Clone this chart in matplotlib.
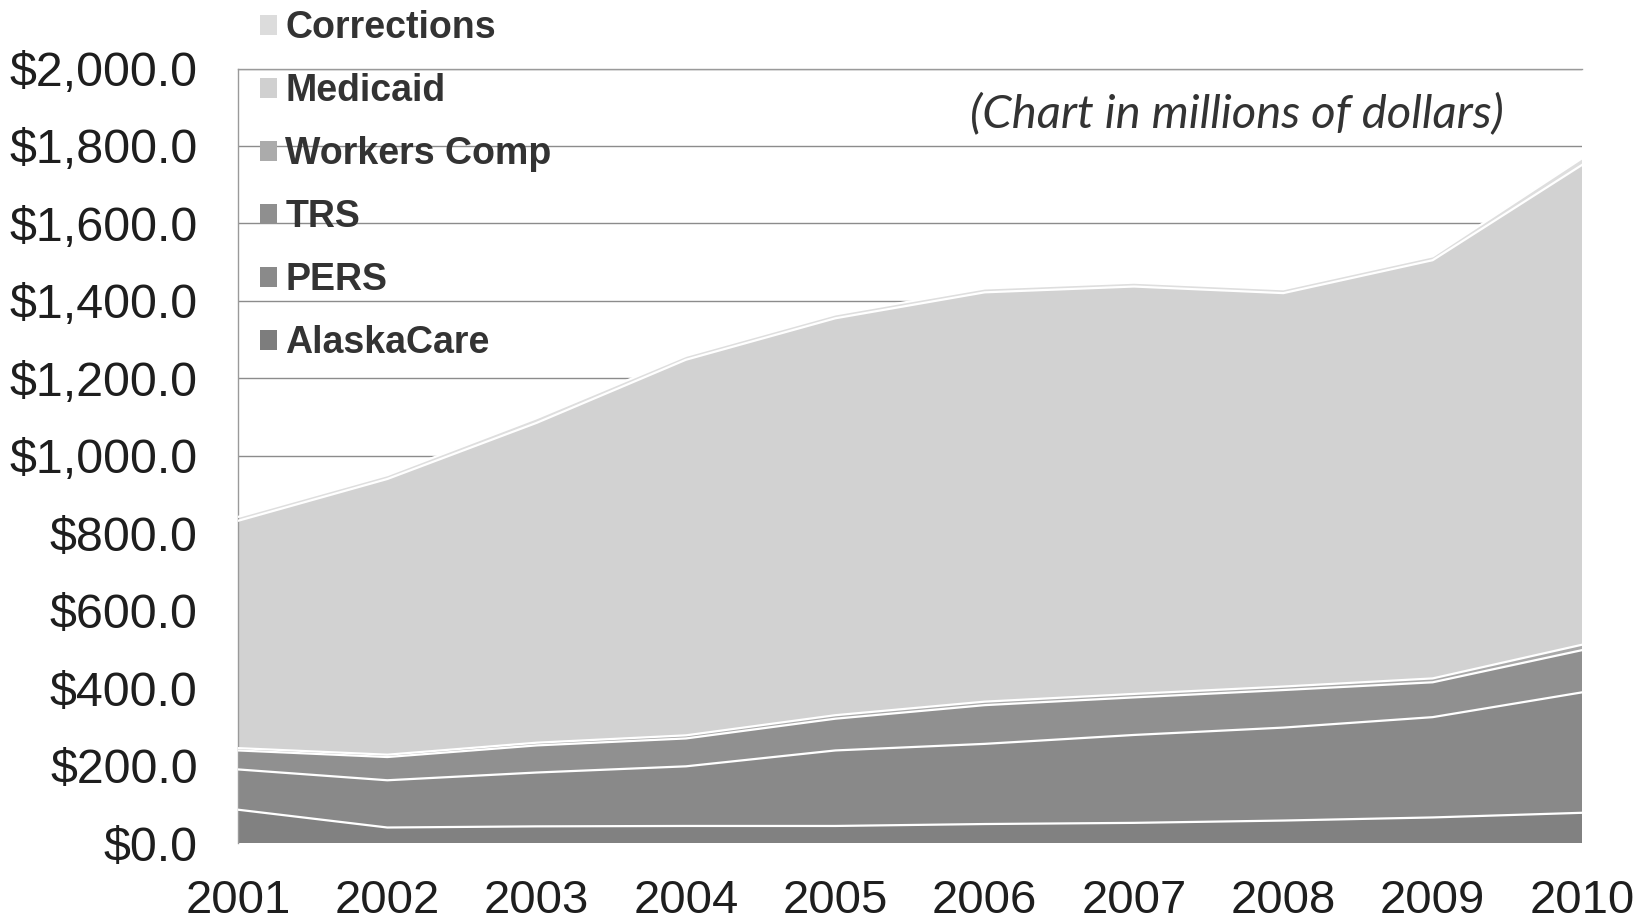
import numpy as np
import matplotlib
matplotlib.use("Agg")
import matplotlib.pyplot as plt
from matplotlib.ticker import FuncFormatter
from matplotlib.patches import Patch

years = [2001, 2002, 2003, 2004, 2005, 2006, 2007, 2008, 2009, 2010]
alaskacare = [86, 40, 43, 44, 44, 49, 52, 58, 66, 78]
pers = [104, 122, 139, 154, 195, 207, 227, 240, 259, 311]
trs = [49, 60, 70, 72, 82, 100, 97, 97, 90, 109]
workers_comp = [6, 6, 7, 8, 9, 9, 9, 9, 10, 14]
medicaid = [587, 712, 826, 970, 1025, 1057, 1052, 1016, 1080, 1239]
corrections = [10, 10, 12, 10, 10, 10, 10, 10, 10, 17]

labels = ["AlaskaCare", "PERS", "TRS", "Workers Comp", "Medicaid", "Corrections"]
series = [alaskacare, pers, trs, workers_comp, medicaid, corrections]
colors = ["#818181", "#898989", "#909090", "#a9a9a9", "#d2d2d2", "#dedede"]
legend_colors = ["#7d7d7d", "#8a8a8a", "#8f8f8f", "#ababab", "#d0d0d0", "#dcdcdc"]

fig = plt.figure(figsize=(16.52, 9.23), dpi=100)
ax = fig.add_axes([238/1652, 80/923, (1582-238)/1652, (843-68.5)/923])

ax.stackplot(years, *series, colors=colors, linewidth=0, zorder=2)
cum = np.cumsum(np.array(series, dtype=float), axis=0)
for row in cum:
    ax.plot(years, row, color="white", lw=1.6, zorder=3)

ax.set_xlim(years[0], years[-1])
ax.set_ylim(0, 2000)
ax.set_yticks(np.arange(0, 2001, 200))
ax.yaxis.set_major_formatter(FuncFormatter(lambda v, p: "${:,.1f}".format(v)))
ax.set_xticks(years)
ax.grid(axis="y", color="#8c8c8c", lw=1.0, zorder=0)
ax.set_axisbelow(True)
ax.tick_params(length=0)
ax.tick_params(axis="y", pad=29)
ax.tick_params(axis="x", pad=26)
for lab in ax.get_yticklabels():
    lab.set_fontfamily(["Liberation Sans", "DejaVu Sans"])
    lab.set_fontsize(34.8)
    lab.set_color("#1e1e1e")
for lab in ax.get_xticklabels():
    lab.set_fontfamily(["Liberation Sans Narrow", "Liberation Sans", "DejaVu Sans"])
    lab.set_fontsize(34)
    lab.set_color("#1e1e1e")

for s in ["left", "top"]:
    ax.spines[s].set_color("#9a9a9a")
    ax.spines[s].set_linewidth(1.0)
ax.spines["right"].set_visible(False)
ax.spines["bottom"].set_visible(False)

# legend (reversed order, top = Corrections)
handles = [Patch(facecolor=c, edgecolor="none") for c in legend_colors][::-1]
leg = fig.legend(handles, labels[::-1], loc="upper left",
                 bbox_to_anchor=(260/1652, 1 - 10/923), frameon=False,
                 prop={"family": ["Liberation Sans", "DejaVu Sans"], "weight": "bold", "size": 27},
                 handlelength=0.45, handleheight=0.45, handletextpad=0.22,
                 labelspacing=0.72, borderaxespad=0, borderpad=0)
for t in leg.get_texts():
    t.set_color("#333333")

fig.text(1237/1652, 1 - 114/923, "(Chart in millions of dollars)", ha="center", va="center",
         fontsize=34, style="italic", family=["Lato", "DejaVu Sans"], color="#333333")

fig.savefig("out.png", dpi=100)
